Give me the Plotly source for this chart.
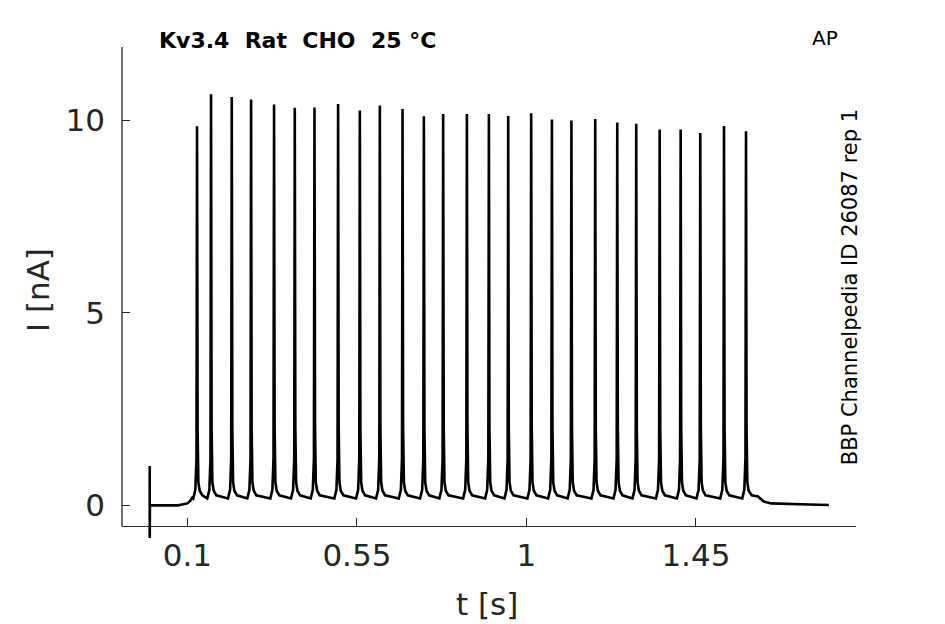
import plotly.graph_objects as go

# ---------------- data ----------------
# spike (peak) times in seconds
spike_times = [0.1256, 0.1628, 0.2178, 0.2691, 0.3301, 0.3851, 0.4374, 0.5001,
               0.5578, 0.6109, 0.6712, 0.7278, 0.7790, 0.8420, 0.9004, 0.9517,
               1.0127, 1.0677, 1.1195, 1.1827, 1.2412, 1.2916, 1.3538, 1.4095,
               1.4616, 1.5246, 1.5830]
# spike peak currents in nA
spike_peaks = [9.84, 10.67, 10.60, 10.54, 10.41, 10.32, 10.33, 10.42,
               10.25, 10.38, 10.29, 10.10, 10.16, 10.16, 10.16, 10.11,
               10.18, 10.02, 9.99, 10.03, 9.94, 9.91, 9.76, 9.76,
               9.67, 9.85, 9.71]
# shape of one spike around its peak (time offset in s, current in nA; None = peak)
spike_shape_dt = [-0.0100, -0.0045, -0.0015, 0.0, 0.0015, 0.0035, 0.0070, 0.0140]
spike_shape_i = [0.18, 0.40, 1.20, None, 2.00, 0.60, 0.38, 0.26]
# stimulus artefact and baseline before the train
pre_t = [0.0, 0.0, 0.0005, 0.075, 0.100, 0.108, 0.113]
pre_i = [1.02, -0.85, 0.0, 0.0, 0.05, 0.12, 0.20]
# decay after the train
post_t = [1.5980, 1.6150, 1.6200, 1.6300, 1.6500, 1.7000, 1.7500, 1.8030]
post_i = [0.26, 0.23, 0.19, 0.10, 0.05, 0.03, 0.02, 0.01]

x_ticks = [0.1, 0.55, 1, 1.45]
x_tick_labels = ["0.1", "0.55", "1", "1.45"]
y_ticks = [0, 5, 10]
y_tick_labels = ["0", "5", "10"]

x_range = [-0.0736, 1.875]
y_range = [-0.90, 11.9]
y_spine_bottom = -0.54

title_text = "Kv3.4\u00a0\u00a0Rat\u00a0\u00a0CHO\u00a0\u00a025 °C"
protocol_text = "AP"
source_text = "BBP Channelpedia ID 26087 rep 1"

# ---------------- assemble trace ----------------
t_vals = list(pre_t)
i_vals = list(pre_i)
for ts, pk in zip(spike_times, spike_peaks):
    for dt, iv in zip(spike_shape_dt, spike_shape_i):
        t_vals.append(ts + dt)
        i_vals.append(pk if iv is None else iv)
t_vals += post_t
i_vals += post_i

axis_col = "#262626"
font_fam = "DejaVu Sans"

fig = go.Figure()
fig.add_trace(go.Scatter(x=t_vals, y=i_vals, mode="lines",
                         line=dict(color="black", width=2.6),
                         hoverinfo="skip", showlegend=False))

x_pos = (y_spine_bottom - y_range[0]) / (y_range[1] - y_range[0])

# the page body adds an 8 px offset, so the figure is 8 px smaller
fig.update_layout(
    width=937, height=616,
    margin=dict(l=114, r=89, t=39, b=84),
    paper_bgcolor="white", plot_bgcolor="white",
    font=dict(family=font_fam, color=axis_col),
    xaxis=dict(range=x_range, showgrid=False, zeroline=False,
               showline=True, linecolor=axis_col, linewidth=1.3,
               ticks="inside", ticklen=8, tickwidth=1.3, tickcolor=axis_col,
               tickvals=x_ticks, ticktext=x_tick_labels,
               tickfont=dict(size=31, color=axis_col, family=font_fam),
               ticklabelstandoff=2,
               anchor="free", position=x_pos),
    yaxis=dict(range=y_range, showgrid=False, zeroline=False,
               showline=False,
               ticks="inside", ticklen=8, tickwidth=1.3, tickcolor=axis_col,
               tickvals=y_ticks, ticktext=y_tick_labels,
               tickfont=dict(size=31, color=axis_col, family=font_fam),
               ticklabelstandoff=16),
    shapes=[dict(type="line", xref="paper", x0=0, x1=0,
                 yref="y", y0=y_spine_bottom, y1=y_range[1],
                 line=dict(color=axis_col, width=1.3))],
    annotations=[
        dict(text="<b>" + title_text + "</b>", xref="paper", yref="paper",
             x=0.0475, y=1.014, xanchor="left", yanchor="middle", showarrow=False,
             font=dict(size=22, color="black", family=font_fam)),
        dict(text=protocol_text, xref="paper", yref="paper",
             x=0.958, y=1.018, xanchor="center", yanchor="middle", showarrow=False,
             font=dict(size=20, color="black", family=font_fam)),
        dict(text=source_text, xref="paper", yref="paper",
             x=0.992, y=0.513, xanchor="center", yanchor="middle", showarrow=False,
             textangle=-90,
             font=dict(size=21, color="black", family=font_fam)),
        dict(text="t [s]", xref="paper", yref="paper",
             x=0.497, y=-0.13, xanchor="center", yanchor="middle", showarrow=False,
             font=dict(size=31, color=axis_col, family=font_fam)),
        dict(text="I [nA]", xref="paper", yref="paper",
             x=-0.1144, y=0.507, xanchor="center", yanchor="middle", showarrow=False,
             textangle=-90,
             font=dict(size=31, color=axis_col, family=font_fam)),
    ],
)

fig.write_html("out.html")
